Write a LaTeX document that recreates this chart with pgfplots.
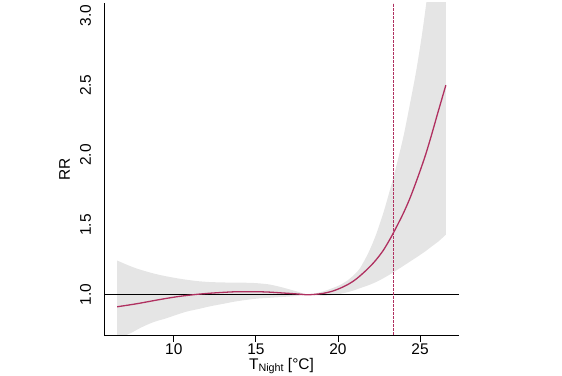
\documentclass[border=0pt]{standalone}
\usepackage{pgfplots}
\pgfplotsset{compat=1.18}
\usepackage{pgfplotstable}
\usepgfplotslibrary{fillbetween}
\usepackage{fontspec}
\setmainfont{Liberation Sans}
\definecolor{bandgrey}{HTML}{E5E5E5}
\definecolor{rrline}{HTML}{B03060}

\pgfplotstableread{
x      y      lo     hi
6.55   0.914  0.675  1.245
7.0    0.922  0.705  1.222
7.5    0.931  0.733  1.198
8.0    0.941  0.765  1.178
8.78   0.958  0.805  1.152
9.5    0.973  0.830  1.133
10.2   0.986  0.858  1.118
10.8   0.995  0.880  1.107
11.5   1.004  0.898  1.097
12.2   1.011  0.917  1.091
13.0   1.017  0.935  1.088
13.66  1.021  0.950  1.087
14.4   1.022  0.963  1.086
15.04  1.022  0.972  1.083
15.8   1.019  0.978  1.074
16.46  1.014  0.983  1.057
17.0   1.010  0.987  1.040
17.48  1.006  0.991  1.024
17.8   1.003  0.995  1.012
18.1   1.000  1.000  1.000
18.5   1.002  0.997  1.006
19.1   1.010  0.994  1.024
19.61  1.024  0.997  1.045
20.12  1.046  1.006  1.070
20.61  1.074  1.019  1.105
21.0   1.103  1.033  1.145
21.34  1.135  1.047  1.190
21.85  1.190  1.068  1.300
22.3   1.247  1.090  1.425
22.76  1.318  1.118  1.585
23.2   1.405  1.148  1.765
23.54  1.480  1.173  1.915
24.0   1.588  1.208  2.140
24.39  1.693  1.238  2.370
24.76  1.808  1.266  2.600
25.1   1.920  1.293  2.850
25.37  2.015  1.315  3.080
25.7   2.145  1.345  3.380
26.1   2.310  1.380  3.780
26.57  2.500  1.430  4.300
}\rrdata

\begin{document}
\begin{tikzpicture}
\begin{axis}[
  at={(0,0)}, anchor=south west,
  scale only axis, width=355bp, height=332bp,
  xmin=5.75, xmax=27.37, ymin=0.712, ymax=3.088,
  axis x line*=bottom, axis y line*=left,
  axis line style={line width=0.8bp, black},
  xtick={10,15,20,25}, ytick={1,1.5,2,2.5,3},
  tick align=outside, major tick length=6.5bp,
  tick style={line width=0.8bp, black},
  ytick style={draw=none},
  font=\fontsize{15.5}{18}\selectfont,
  /pgf/number format/assume math mode=true,
  xticklabel style={anchor=base, inner sep=0pt},
  xticklabel shift=12.8bp,
  yticklabel style={rotate=90, anchor=base, inner sep=0pt,
    /pgf/number format/fixed, /pgf/number format/fixed zerofill,
    /pgf/number format/precision=1},
  yticklabel shift=6.5bp,
  xlabel={T\raisebox{-2bp}{\fontsize{10.8}{13}\selectfont Night} [°C]},
  xlabel style={at={(axis description cs:0.5,-0.1033)}, anchor=base, inner sep=0pt},
  ylabel={RR},
  ylabel style={at={(axis description cs:-0.0958,0.5)}, anchor=base, inner sep=0pt},
]
\addplot[name path=hi, draw=none, smooth] table[x=x, y=hi] {\rrdata};
\addplot[name path=lo, draw=none, smooth] table[x=x, y=lo] {\rrdata};
\addplot[fill=bandgrey, draw=none] fill between[of=hi and lo];
\addplot[black, line width=0.8bp] coordinates {(5.75,1) (27.37,1)};
\addplot[rrline, line width=0.9bp, dash pattern=on 2.5bp off 1.5bp] coordinates {(23.37,0.712) (23.37,3.088)};
\addplot[rrline, line width=1.3bp, smooth] table[x=x, y=y] {\rrdata};
\end{axis}
\pgfresetboundingbox
\path[use as bounding box] (-104bp,-41bp) rectangle (458bp,335bp);
\end{tikzpicture}
\end{document}
